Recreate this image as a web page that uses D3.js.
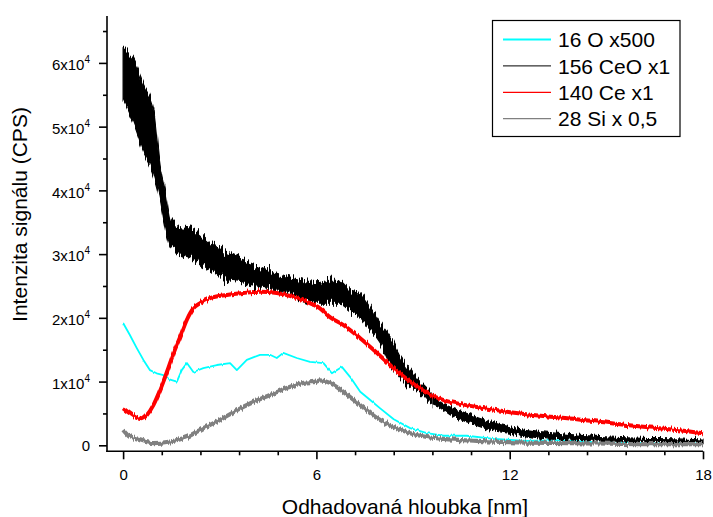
<!DOCTYPE html>
<html>
<head>
<meta charset="utf-8">
<script src="https://cdn.jsdelivr.net/npm/d3@7/dist/d3.min.js"></script>
<style>
  html, body { margin: 0; padding: 0; background: #fff; }
  svg { display: block; font-family: "Liberation Sans", Arial, sans-serif; }
</style>
</head>
<body>
<svg id="chart" width="713" height="517"></svg>
<script>
// Depth profiles (estimated depth in nm, signal in CPS)

// 16 O x500
const oxygenDepth = [0, 0.21, 0.42, 0.63, 0.83, 1.04, 1.25, 1.46, 1.67, 1.82, 1.98, 2.18, 2.49, 2.91, 3.32, 3.53, 3.84, 4.25, 4.56, 4.77, 4.97, 5.39, 5.8, 6.22, 6.48, 6.79, 7.05, 7.36, 7.67, 7.98, 8.4, 8.91, 9.43, 9.95, 10.67, 11.5, 12.53, 13.57, 14.6, 15.6, 16.6, 18];
const oxygenSignal = [19200, 17300, 15300, 13400, 11800, 11300, 11000, 10300, 10000, 11800, 12900, 11500, 12100, 12600, 12900, 11800, 13400, 14200, 14200, 13700, 14500, 13700, 13100, 12900, 11300, 12300, 10700, 8400, 7100, 5800, 4100, 2700, 1900, 1500, 1500, 1000, 700, 800, 500, 400, 300, 300];

// 156 CeO x1 (noisy: lower and upper edge of the trace)
const ceoDepth = [0, 0.32, 0.63, 0.94, 1.15, 1.30, 1.46, 1.67, 2.18, 2.70, 3.22, 3.73, 4.25, 4.77, 5.18, 5.6, 6.01, 6.42, 6.73, 7.05, 7.36, 7.67, 7.98, 8.29, 8.6, 8.91, 9.22, 9.53, 9.84, 10.15, 10.77, 11.39, 12.01, 13.04, 14.09, 15.1, 16.1, 17.2, 18];
const ceoHigh = [62300, 60500, 56800, 53100, 43700, 40100, 35400, 34300, 33800, 31800, 30200, 29100, 28000, 27000, 26400, 25900, 25500, 25900, 25900, 24400, 23900, 21700, 19200, 17000, 13900, 11800, 9800, 8200, 6800, 6000, 4800, 3700, 2900, 2100, 1600, 1300, 1100, 1000, 800];
const ceoLow = [54200, 50600, 46300, 42700, 38500, 34300, 31200, 30200, 29100, 27500, 25900, 25500, 24900, 24400, 23900, 22800, 22300, 22300, 22300, 21200, 20100, 18100, 16100, 12900, 10700, 9200, 8200, 6600, 5900, 4800, 3500, 2400, 1900, 1100, 800, 500, 500, 400, 100];

// 140 Ce x1
const ceDepth = [0, 0.21, 0.42, 0.57, 0.73, 0.94, 1.15, 1.36, 1.57, 1.77, 1.98, 2.18, 2.39, 2.7, 3.22, 3.73, 4.25, 4.77, 5.28, 5.8, 6.11, 6.42, 6.83, 7.36, 7.88, 8.4, 8.91, 9.43, 9.95, 10.46, 10.98, 12.01, 13.04, 14.08, 15.1, 16.15, 17.18, 18];
const ceSignal = [5800, 5000, 4300, 4100, 4700, 6300, 8700, 11500, 14500, 17000, 19700, 21500, 22300, 23100, 23600, 23900, 24100, 23900, 23300, 22300, 21500, 20100, 18900, 16800, 14500, 12100, 10000, 8200, 7100, 6500, 6000, 5200, 4600, 4100, 3500, 2900, 2400, 1900];

// 28 Si x 0,5
const siDepth = [0, 0.21, 0.52, 0.94, 1.46, 1.98, 2.49, 3.01, 3.53, 4.04, 4.56, 5.08, 5.6, 6.01, 6.11, 6.42, 6.83, 7.36, 7.88, 8.4, 8.91, 9.43, 9.95, 10.98, 12.0, 14.08, 16, 18];
const siSignal = [2400, 1300, 800, 350, 600, 1300, 2700, 4000, 5500, 6800, 7900, 9000, 9800, 10000, 10200, 9800, 8400, 6300, 4300, 2900, 1900, 1300, 1000, 700, 500, 350, 200, 200];

const legendLabels = ["16 O x500", "156 CeO x1", "140 Ce x1", "28 Si x 0,5"];
const seriesColors = ["#00ffff", "#000000", "#ff0000", "#808080"];

const xTickValues = [0, 6, 12, 18];
const xMinorTicks = [1.2, 2.4, 3.6, 4.8, 7.2, 8.4, 9.6, 10.8, 13.2, 14.4, 15.6, 16.8];
const yTickValues = [0, 10000, 20000, 30000, 40000, 50000, 60000];
const yMinorTicks = [5000, 15000, 25000, 35000, 45000, 55000, 65000];

const xTitle = "Odhadovaná hloubka [nm]";
const yTitle = "Intenzita signálu (CPS)";

// ---- layout ----
const svg = d3.select("#chart");
const x = d3.scaleLinear().domain([-0.5, 18]).range([107, 703]);
const y = d3.scaleLinear().domain([-940, 67360]).range([451.3, 16]);

// jagged texture for the counting noise on the traces
const defs = svg.append("defs");
function noiseFilter(id, amount, seed) {
  const f = defs.append("filter").attr("id", id)
    .attr("filterUnits", "userSpaceOnUse")
    .attr("x", 100).attr("y", 0).attr("width", 613).attr("height", 460);
  f.append("feTurbulence").attr("type", "fractalNoise")
    .attr("baseFrequency", "0.55 0.003").attr("numOctaves", 2)
    .attr("seed", seed).attr("result", "tex");
  f.append("feColorMatrix").attr("in", "tex").attr("type", "matrix")
    .attr("values", "0 0 0 0 0.5  0 1 0 0 0  0 0 0 0 0  0 0 0 0 1")
    .attr("result", "map");
  f.append("feDisplacementMap").attr("in", "SourceGraphic").attr("in2", "map")
    .attr("scale", amount).attr("xChannelSelector", "R").attr("yChannelSelector", "G");
}
noiseFilter("jitterStrong", 20, 3);
noiseFilter("jitterMedium", 9, 5);
noiseFilter("jitterLight", 6, 7);
noiseFilter("jitterFaint", 3, 11);

// the CeO trace is much noisier near the surface than in the tail
const splitDepth = 9.6;
defs.append("clipPath").attr("id", "clipSurface")
  .append("rect").attr("x", 100).attr("y", 0).attr("width", x(splitDepth) - 100).attr("height", 460);
defs.append("clipPath").attr("id", "clipTail")
  .append("rect").attr("x", x(splitDepth)).attr("y", 0).attr("width", 713 - x(splitDepth)).attr("height", 460);

const zip = (xs, ys) => xs.map((d, i) => [d, ys[i]]);
const line = d3.line().x(d => x(d[0])).y(d => y(d[1]));
const smoothLine = d3.line().curve(d3.curveMonotoneX).x(d => x(d[0])).y(d => y(d[1]));

const plot = svg.append("g");

// cyan O trace
plot.append("path")
  .datum(zip(oxygenDepth, oxygenSignal))
  .attr("d", line)
  .attr("fill", "none")
  .attr("stroke", seriesColors[0])
  .attr("stroke-width", 1.8)
  .attr("stroke-linejoin", "round")
  .attr("filter", "url(#jitterFaint)");

// CeO trace drawn as its noise band
const ceoBand = ceoDepth.map((d, i) => ({ d, lo: ceoLow[i], hi: ceoHigh[i] }));
const ceoArea = d3.area().curve(d3.curveMonotoneX).x(p => x(p.d)).y0(p => y(p.lo)).y1(p => y(p.hi));
[["clipSurface", "jitterStrong"], ["clipTail", "jitterMedium"]].forEach(([clip, filt]) => {
  plot.append("g").attr("clip-path", `url(#${clip})`)
    .append("path")
    .datum(ceoBand)
    .attr("d", ceoArea)
    .attr("fill", seriesColors[1])
    .attr("stroke", seriesColors[1])
    .attr("stroke-width", 1.2)
    .attr("filter", `url(#${filt})`);
});

// Ce trace
plot.append("path")
  .datum(zip(ceDepth, ceSignal))
  .attr("d", smoothLine)
  .attr("fill", "none")
  .attr("stroke", seriesColors[2])
  .attr("stroke-width", 4)
  .attr("filter", "url(#jitterLight)");

// Si trace
plot.append("path")
  .datum(zip(siDepth, siSignal))
  .attr("d", smoothLine)
  .attr("fill", "none")
  .attr("stroke", seriesColors[3])
  .attr("stroke-width", 4.2)
  .attr("filter", "url(#jitterLight)");

// ---- axes ----
const axisG = svg.append("g").attr("stroke", "#000").attr("stroke-width", 1.6);
const x0 = x.range()[0], y0 = y.range()[0];
axisG.append("line").attr("x1", x0).attr("x2", x0).attr("y1", y.range()[1]).attr("y2", y0 + 0.8);
axisG.append("line").attr("x1", x0 - 0.8).attr("x2", x.range()[1]).attr("y1", y0).attr("y2", y0);

const xAxisMajor = d3.axisBottom(x).tickValues(xTickValues).tickSize(8).tickPadding(5).tickFormat(d3.format("d"));
const xAxisMinor = d3.axisBottom(x).tickValues(xMinorTicks).tickSize(4).tickFormat("");
const yAxisMajor = d3.axisLeft(y).tickValues(yTickValues).tickSize(8).tickFormat("");
const yAxisMinor = d3.axisLeft(y).tickValues(yMinorTicks).tickSize(4).tickFormat("");

function styleAxis(g) {
  g.select(".domain").remove();
  g.selectAll(".tick line").attr("stroke", "#000").attr("stroke-width", 1.6);
}

svg.append("g").attr("transform", `translate(0,${y0})`).call(xAxisMinor).call(styleAxis);
const gx = svg.append("g").attr("transform", `translate(0,${y0})`).call(xAxisMajor).call(styleAxis);
gx.selectAll(".tick text")
  .attr("font-family", "Liberation Sans, Arial, sans-serif")
  .attr("font-size", 15).attr("fill", "#000")
  .attr("dy", null).attr("y", 29.2);

svg.append("g").attr("transform", `translate(${x0},0)`).call(yAxisMinor).call(styleAxis);
svg.append("g").attr("transform", `translate(${x0},0)`).call(yAxisMajor).call(styleAxis);

// y tick labels in "Nx10^4" form
const yLabels = svg.append("g")
  .attr("font-family", "Liberation Sans, Arial, sans-serif")
  .attr("font-size", 15).attr("fill", "#000").attr("text-anchor", "end");
yTickValues.forEach(v => {
  const t = yLabels.append("text").attr("x", 90);
  if (v === 0) {
    t.attr("y", y(v) + 5.4).text("0");
  } else {
    const e = Math.floor(Math.log10(v));
    const m = v / Math.pow(10, e);
    t.attr("y", y(v) + 7.2);
    t.append("tspan").text(`${m}x10`);
    t.append("tspan").attr("font-size", 10).attr("dy", -7).text(e);
  }
});

// axis titles
svg.append("text")
  .attr("x", 405).attr("y", 514)
  .attr("text-anchor", "middle")
  .attr("font-size", 21).attr("fill", "#000")
  .text(xTitle);

svg.append("text")
  .attr("transform", "translate(27,214.5) rotate(-90)")
  .attr("text-anchor", "middle")
  .attr("font-size", 21).attr("fill", "#000")
  .text(yTitle);

// ---- legend ----
const legend = svg.append("g");
legend.append("rect")
  .attr("x", 492.5).attr("y", 20.5).attr("width", 187.5).attr("height", 116)
  .attr("fill", "#fff").attr("stroke", "#000").attr("stroke-width", 1.2);
const legendWidths = [1.8, 1, 1.2, 1.2];
legendLabels.forEach((lab, i) => {
  const ly = 39.5 + i * 26.4;
  legend.append("line")
    .attr("x1", 503).attr("x2", 551).attr("y1", ly).attr("y2", ly)
    .attr("stroke", seriesColors[i]).attr("stroke-width", legendWidths[i]);
  legend.append("text")
    .attr("x", 558).attr("y", ly + 7.6)
    .attr("font-size", 21).attr("fill", "#000")
    .text(lab);
});
</script>
</body>
</html>
